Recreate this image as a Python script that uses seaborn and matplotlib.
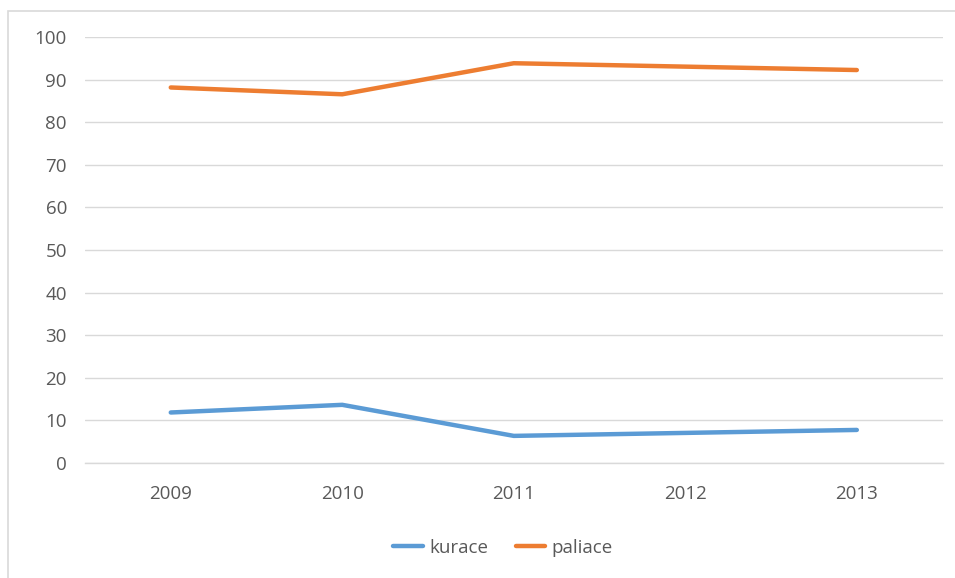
import matplotlib.pyplot as plt
import matplotlib.patches as patches
import pandas as pd
import seaborn as sns

years = ["2009", "2010", "2011", "2012", "2013"]
kurace = [11.8, 13.6, 6.3, 7.0, 7.7]
paliace = [88.2, 86.6, 93.9, 93.1, 92.3]

sns.set_theme(style="whitegrid")
plt.rcParams['font.family'] = ['Open Sans', 'DejaVu Sans']

df = pd.DataFrame({
    "year": years * 2,
    "value": kurace + paliace,
    "series": ["kurace"] * len(years) + ["paliace"] * len(years),
})

fig = plt.figure(figsize=(9.55, 5.78), dpi=100)
ax = fig.add_axes([0.089, 0.1995, 0.898, 0.736])

# chart frame, only its left and top edges fall inside the picture
fig.patches.append(patches.Rectangle((8 / 955, -0.1), 1.1, (578 - 11) / 578 + 0.1,
                                     transform=fig.transFigure, fill=False,
                                     edgecolor="#d9d9d9", linewidth=1.2))

sns.lineplot(data=df, x="year", y="value", hue="series",
             palette={"kurace": "#5b9bd5", "paliace": "#ed7d31"},
             linewidth=3.2, sort=False, ax=ax)

ax.set_ylim(0, 100)
ax.set_xlim(-0.5, 4.5)
ax.set_yticks(range(0, 101, 10))
ax.set_xlabel("")
ax.set_ylabel("")
ax.grid(axis="y", color="#d9d9d9", linewidth=1)
ax.grid(axis="x", visible=False)
for side in ["left", "right", "top"]:
    ax.spines[side].set_visible(False)
ax.spines["bottom"].set_color("#d9d9d9")
ax.spines["bottom"].set_linewidth(1)
ax.tick_params(axis="both", colors="#595959", labelsize=13.5, length=0)
ax.tick_params(axis="y", pad=13)
ax.tick_params(axis="x", pad=16)

# move the legend below the plot, without the hue title
handles, labels = ax.get_legend_handles_labels()
ax.get_legend().remove()
fig.legend(handles, labels, loc="center", bbox_to_anchor=(0.527, 1 - 548 / 578),
           ncol=2, frameon=False, fontsize=13.5, handlelength=1.55,
           columnspacing=1.5, labelcolor="#595959", handletextpad=0.35)

plt.savefig("out.png", dpi=100)
